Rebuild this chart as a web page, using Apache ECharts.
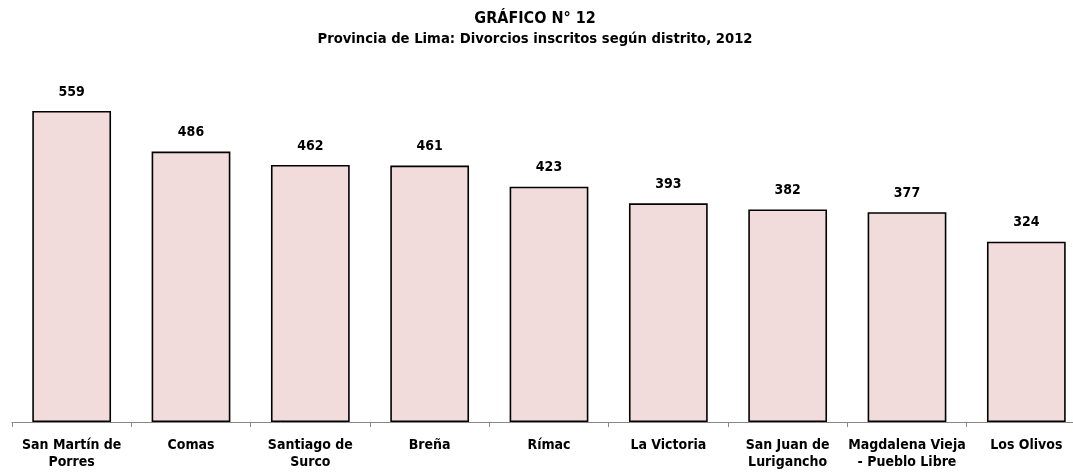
<!DOCTYPE html>
<html>
<head>
<meta charset="utf-8">
<script src="https://cdn.jsdelivr.net/npm/echarts@6/dist/echarts.min.js"></script>
<style>html,body{margin:0;padding:0;background:#fff;overflow:hidden;width:1073px;height:472px}#c{width:1086px;height:472px}</style>
</head>
<body>
<div id="c"></div>
<script>
const categories = ["San Martín de\nPorres", "Comas", "Santiago de\nSurco", "Breña", "Rímac", "La Victoria", "San Juan de\nLurigancho", "Magdalena Vieja\n- Pueblo Libre", "Los Olivos"];
const divorces = [559, 486, 462, 461, 423, 393, 382, 377, 324];
const titleLines = ["GRÁFICO N° 12", "Provincia de Lima: Divorcios inscritos según distrito, 2012"];

const FONT = '"DejaVu Sans Condensed", "Liberation Sans Narrow", sans-serif';
const chart = echarts.init(document.getElementById('c'), null, {renderer: 'canvas'});
chart.setOption({
  animation: false,
  backgroundColor: '#ffffff',
  title: {
    text: '{a|' + titleLines[0] + '}\n{b|' + titleLines[1] + '}',
    left: 530,
    textAlign: 'center',
    top: 4,
    textStyle: {
      fontFamily: FONT, fontWeight: 'bold', color: '#000',
      rich: {
        a: {fontFamily: FONT, fontWeight: 'bold', fontSize: 16, lineHeight: 20, color: '#000', align: 'center'},
        b: {fontFamily: FONT, fontWeight: 'bold', fontSize: 14.7, lineHeight: 20, color: '#000', align: 'center'}
      }
    }
  },
  grid: {left: 12, right: 0, top: 88.2, bottom: 50, containLabel: false},
  xAxis: {
    type: 'category',
    data: categories,
    axisLine: {lineStyle: {color: '#888', width: 1}},
    axisTick: {show: true, length: 5, lineStyle: {color: '#888'}},
    axisLabel: {interval: 0, margin: 15, fontFamily: FONT, fontWeight: 'bold', fontSize: 14, lineHeight: 17, color: '#000'}
  },
  yAxis: {
    type: 'value', min: 0, max: 600, show: false,
    splitLine: {show: false}
  },
  series: [{
    type: 'bar',
    data: divorces,
    barWidth: '66%',
    itemStyle: {color: '#F2DCDB', borderColor: '#000', borderWidth: 1.6},
    label: {show: true, position: 'top', distance: 12, fontFamily: FONT, fontWeight: 'bold', fontSize: 14, color: '#000'}
  }]
});
</script>
</body>
</html>
